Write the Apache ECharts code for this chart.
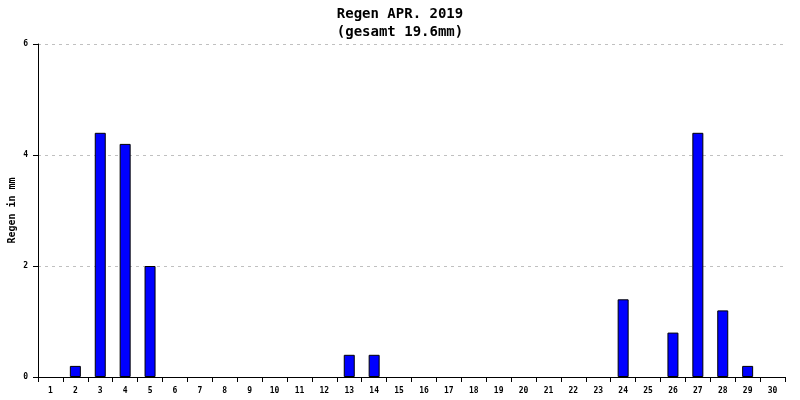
<!DOCTYPE html>
<html style="height: 100%">
<head>
<meta charset="utf-8">
<script src="https://cdn.jsdelivr.net/npm/echarts@6/dist/echarts.min.js"></script>
</head>
<body style="height: 100%; margin: 0">
<div id="container" style="width: 800px; height: 400px"></div>
<script type="text/javascript">
// days of April 2019
var days = [];
for (var d = 1; d <= 30; d++) days.push(String(d));
// daily rainfall in mm
var rain = [0, 0.2, 4.4, 4.2, 2.0, 0, 0, 0, 0, 0, 0, 0, 0.4, 0.4, 0, 0, 0, 0, 0, 0, 0, 0, 0, 1.4, 0, 0.8, 4.4, 1.2, 0.2, 0];
var yTicks = [0, 2, 4, 6];

var font = 'DejaVu Sans Mono';
var myChart = echarts.init(document.getElementById('container'));
var option = {
    backgroundColor: 'white',
    animation: false,
    title: {
        text: 'Regen APR. 2019\n(gesamt 19.6mm)',
        left: 'center',
        top: 0,
        textStyle: {fontFamily: font, fontSize: 14, fontWeight: 'bold', color: '#000', lineHeight: 18}
    },
    grid: {left: 38, right: 15, top: 44, bottom: 23, outerBoundsMode: 'none', containLabel: false},
    xAxis: {
        type: 'category',
        data: days,
        axisLine: {lineStyle: {color: '#000', width: 1}},
        axisTick: {show: true, length: 5, lineStyle: {color: '#000'}},
        axisLabel: {fontFamily: font, fontSize: 8, fontWeight: 'bold', color: '#000', margin: 10, interval: 0}
    },
    yAxis: {
        type: 'value',
        min: yTicks[0],
        max: yTicks[yTicks.length - 1],
        interval: 2,
        name: 'Regen in mm',
        nameLocation: 'middle',
        nameRotate: 90,
        nameGap: 21,
        nameMoveOverlap: false,
        nameTextStyle: {fontFamily: font, fontSize: 10, fontWeight: 'bold', color: '#000'},
        axisLine: {show: true, lineStyle: {color: '#000', width: 1}},
        axisTick: {show: true, length: 5, lineStyle: {color: '#000'}},
        axisLabel: {fontFamily: font, fontSize: 8, fontWeight: 'bold', color: '#000', margin: 10},
        splitLine: {show: true, lineStyle: {color: '#c0c0c0', type: [3, 4]}}
    },
    series: [{
        type: 'bar',
        // no bar drawn on dry days
        data: rain.map(function (v) { return v > 0 ? v : '-'; }),
        barWidth: 11,
        itemStyle: {color: '#0000ff', borderColor: '#000', borderWidth: 1}
    }]
};
myChart.setOption(option, true);
</script>
</body>
</html>
